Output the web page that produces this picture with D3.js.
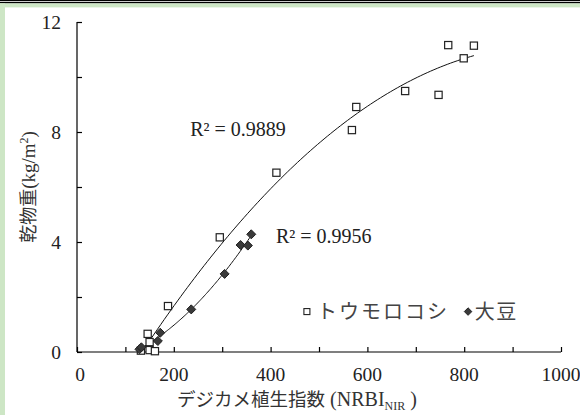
<!DOCTYPE html>
<html>
<head>
<meta charset="utf-8">
<title>乾物重とデジカメ植生指数</title>
<script src="https://d3js.org/d3.v7.min.js"></script>
<style>
  body { margin: 0; background: #fff; }
  svg { display: block; }
</style>
</head>
<body>
<div id="chart"></div>
<script>
// トウモロコシ (x = NRBI_NIR, y = 乾物重)
const cornX = [132, 146, 150, 150, 161, 188, 295, 412, 568, 577, 678, 747, 767, 799, 820];
const cornY = [0.05, 0.66, 0.36, 0.07, 0.03, 1.67, 4.17, 6.52, 8.07, 8.91, 9.49, 9.35, 11.16, 10.68, 11.14];
// 大豆
const soyX = [129, 133, 167, 172, 236, 305, 338, 353, 360];
const soyY = [0.10, 0.17, 0.40, 0.70, 1.55, 2.84, 3.89, 3.87, 4.28];

const xTicks = [0, 200, 400, 600, 800, 1000];
const yTicks = [0, 4, 8, 12];
const r2Labels = ["R² = 0.9889", "R² = 0.9956"];
const legendNames = ["トウモロコシ", "大豆"];

const W = 580, H = 415;
const margin = {top: 22, right: 19, bottom: 63, left: 77};
const w = W - margin.left - margin.right;
const h = H - margin.top - margin.bottom;

const svg = d3.select("#chart").append("svg")
    .attr("width", W)
    .attr("height", H);

// 枠 (上の二重線と緑の帯)
svg.append("rect").attr("x", 0).attr("y", 0).attr("width", W).attr("height", 1).attr("fill", "#000");
svg.append("rect").attr("x", 0).attr("y", 1.8).attr("width", W).attr("height", 1.6).attr("fill", "#000");
svg.append("rect").attr("x", 0).attr("y", 3.4).attr("width", W).attr("height", 4).attr("fill", "#cde6c5");
svg.append("rect").attr("x", 0).attr("y", 3.4).attr("width", 5).attr("height", H).attr("fill", "#cde6c5");

const g = svg.append("g")
    .attr("transform", "translate(" + margin.left + "," + margin.top + ")");

const x = d3.scaleLinear().domain([0, 1000]).range([0, w]);
const y = d3.scaleLinear().domain([0, 12]).range([h, 0]);

// 軸 (目盛りは内向き)
const xAxis = d3.axisTop(x).tickValues(d3.range(0, 1001, 100)).tickSize(5).tickFormat("");
const yAxis = d3.axisRight(y).tickValues(d3.range(0, 13, 2)).tickSize(5).tickFormat("");

g.append("g").attr("transform", "translate(0," + h + ")").call(xAxis)
    .call(a => a.select(".domain").attr("d", "M0,0H" + w));
g.append("g").call(yAxis)
    .call(a => a.select(".domain").attr("d", "M0,0V" + h));
g.selectAll(".domain, .tick line").attr("stroke", "#000").attr("stroke-width", 1.2);

const serif = "'Liberation Serif', 'Times New Roman', serif";
const jp = "'Noto Sans CJK JP', sans-serif";

g.selectAll(".xl").data(xTicks).enter().append("text")
    .attr("x", d => x(d) + (d === 0 ? 3 : 0))
    .attr("y", h + 29)
    .attr("text-anchor", "middle")
    .attr("font-family", serif).attr("font-size", 19.5).attr("fill", "#222")
    .text(d => d);

g.selectAll(".yl").data(yTicks).enter().append("text")
    .attr("x", -16)
    .attr("y", d => y(d) + 7)
    .attr("text-anchor", "end")
    .attr("font-family", serif).attr("font-size", 19.5).attr("fill", "#222")
    .text(d => d);

// 軸タイトル
const yt = svg.append("text")
    .attr("transform", "translate(35,187) rotate(-90)")
    .attr("text-anchor", "middle")
    .attr("font-size", 18).attr("fill", "#333");
yt.append("tspan").attr("font-family", jp).text("乾物重");
yt.append("tspan").attr("font-family", serif).attr("font-size", 19).text("(kg/m");
yt.append("tspan").attr("font-family", serif).attr("font-size", 12).attr("dy", -7).text("2");
yt.append("tspan").attr("font-family", serif).attr("font-size", 19).attr("dy", 7).text(")");

const xt = svg.append("text")
    .attr("x", 297).attr("y", 406)
    .attr("text-anchor", "middle")
    .attr("font-size", 18.5).attr("fill", "#333");
xt.append("tspan").attr("font-family", jp).text("デジカメ植生指数");
xt.append("tspan").attr("font-family", serif).attr("font-size", 20).text(" (NRBI");
xt.append("tspan").attr("font-family", serif).attr("font-size", 12).attr("dy", 4).text("NIR");
xt.append("tspan").attr("font-family", serif).attr("font-size", 20).attr("dy", -4).text(" )");

// 2次多項式の近似曲線 (最小二乗)
function quadFit(xs, ys) {
    let s = [0, 0, 0, 0, 0], t = [0, 0, 0];
    xs.forEach((xi, i) => {
        for (let k = 0; k < 5; k++) s[k] += Math.pow(xi, k);
        for (let k = 0; k < 3; k++) t[k] += ys[i] * Math.pow(xi, k);
    });
    const m = [[s[0], s[1], s[2], t[0]], [s[1], s[2], s[3], t[1]], [s[2], s[3], s[4], t[2]]];
    for (let i = 0; i < 3; i++) {
        for (let j = i + 1; j < 3; j++) {
            const f = m[j][i] / m[i][i];
            for (let k = i; k < 4; k++) m[j][k] -= f * m[i][k];
        }
    }
    const c = [0, 0, 0];
    for (let i = 2; i >= 0; i--) {
        let v = m[i][3];
        for (let k = i + 1; k < 3; k++) v -= m[i][k] * c[k];
        c[i] = v / m[i][i];
    }
    return v => c[0] + c[1] * v + c[2] * v * v;
}

const line = d3.line().x(d => x(d[0])).y(d => y(d[1]));

[[cornX, cornY], [soyX, soyY]].forEach(([xs, ys]) => {
    const f = quadFit(xs, ys);
    const lo = d3.min(xs), hi = d3.max(xs);
    const pts = d3.range(0, 101).map(i => {
        const v = lo + (hi - lo) * i / 100;
        return [v, f(v)];
    });
    g.append("path").attr("d", line(pts))
        .attr("fill", "none").attr("stroke", "#111").attr("stroke-width", 1);
});

// 点
g.selectAll(".corn").data(cornX).enter().append("rect")
    .attr("x", (d) => x(d) - 3.6)
    .attr("y", (d, i) => y(cornY[i]) - 3.6)
    .attr("width", 7.2).attr("height", 7.2)
    .attr("fill", "#fff").attr("stroke", "#222").attr("stroke-width", 1.2);

const diamond = d3.symbol().type(d3.symbolDiamond2).size(52);
g.selectAll(".soy").data(soyX).enter().append("path")
    .attr("d", diamond)
    .attr("transform", (d, i) => "translate(" + x(d) + "," + y(soyY[i]) + ")")
    .attr("fill", "#3a3a3a").attr("stroke", "#222").attr("stroke-width", 1);

// R² ラベル
g.append("text").attr("x", x(234)).attr("y", y(7.85))
    .attr("font-family", serif).attr("font-size", 20).attr("fill", "#222")
    .text(r2Labels[0]);
g.append("text").attr("x", x(411)).attr("y", y(3.98))
    .attr("font-family", serif).attr("font-size", 20).attr("fill", "#222")
    .text(r2Labels[1]);

// 凡例
const leg = g.append("g").attr("transform", "translate(0," + y(1.47) + ")");
leg.append("rect").attr("x", x(475) - 3).attr("y", -3).attr("width", 6).attr("height", 6)
    .attr("fill", "#fff").attr("stroke", "#222").attr("stroke-width", 1.1);
leg.append("text").attr("x", x(496)).attr("y", 7)
    .attr("font-family", jp).attr("font-size", 20).attr("letter-spacing", 2).attr("fill", "#444")
    .text(legendNames[0]);
leg.append("path").attr("d", d3.symbol().type(d3.symbolDiamond2).size(36))
    .attr("transform", "translate(" + x(808) + ",0)")
    .attr("fill", "#3a3a3a").attr("stroke", "#222");
leg.append("text").attr("x", x(822)).attr("y", 7)
    .attr("font-family", jp).attr("font-size", 20).attr("letter-spacing", 1.3).attr("fill", "#444")
    .text(legendNames[1]);
</script>
</body>
</html>
